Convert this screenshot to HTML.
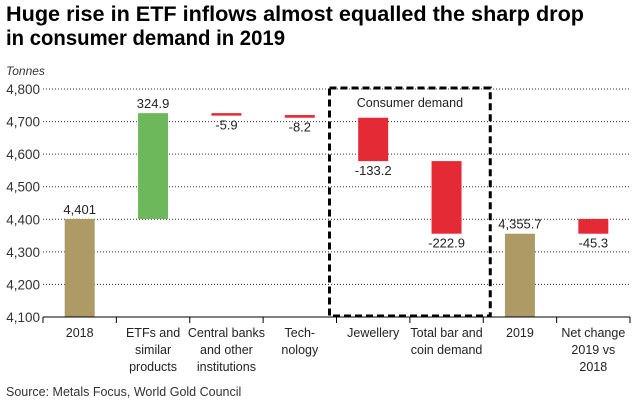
<!DOCTYPE html>
<html><head><meta charset="utf-8"><style>
body{margin:0;background:#fff;font-family:"Liberation Sans",sans-serif;}
svg text{font-family:"Liberation Sans",sans-serif;}
</style></head><body>
<svg id="c" width="644" height="415">
<text x="6" y="21" font-size="21" font-weight="bold" textLength="578" lengthAdjust="spacingAndGlyphs">Huge rise in ETF inflows almost equalled the sharp drop</text>
<text x="6" y="45" font-size="21" font-weight="bold" textLength="279" lengthAdjust="spacingAndGlyphs">in consumer demand in 2019</text>
<text x="6" y="75" font-size="12" font-style="italic" fill="#333">Tonnes</text>
<text x="6" y="396" font-size="12.5" fill="#333">Source: Metals Focus, World Gold Council</text>
<g id="g"></g>
</svg>
<script>
const categories=[["2018"],["ETFs and","similar","products"],["Central banks","and other","institutions"],["Tech-","nology"],["Jewellery"],["Total bar and","coin demand"],["2019"],["Net change","2019 vs","2018"]];
const changes=[4401,324.9,-5.9,-8.2,-133.2,-222.9,4355.7,-45.3];
const labels=["4,401","324.9","-5.9","-8.2","-133.2","-222.9","4,355.7","-45.3"];
const kinds=["total","delta","delta","delta","delta","delta","total","net"];
const yTicks=[4100,4200,4300,4400,4500,4600,4700,4800];
const NS="http://www.w3.org/2000/svg",g=document.getElementById('g');
const x0=43,x1=630,yB=317,yT=89,vMin=4100,vMax=4800;
const step=(x1-x0)/categories.length;
const y=v=>yB-(v-vMin)/(vMax-vMin)*(yB-yT);
const cx=i=>x0+step*(i+0.5);
function mk(t,a){const e=document.createElementNS(NS,t);for(const k in a)e.setAttribute(k,a[k]);g.appendChild(e);return e;}
yTicks.forEach(v=>{
 if(v>vMin){const l=mk('line',{x1:x0,x2:x1,y1:y(v),y2:y(v),stroke:'#333','stroke-width':1,'stroke-dasharray':'1,2'});
 
 }
 const t=mk('text',{x:x0-3,y:y(v)+5,'font-size':13.5,'text-anchor':'end',fill:'#333'});t.textContent=v.toLocaleString('en-US');
 
 
});
const box=mk('rect',{x:x0+step*4-7,y:88,width:step*2+14,height:228,fill:'none',stroke:'#000','stroke-width':3,'stroke-dasharray':'7,4'});


const bt=mk('text',{x:x0+step*5,y:107,'font-size':12.5,'text-anchor':'middle',fill:'#222'});bt.textContent='Consumer demand';


let run=0;
changes.forEach((d,i)=>{
 let a,b,col;
 if(kinds[i]==='total'){a=vMin;b=d;run=d;col='#ad9a64';}
 else if(kinds[i]==='net'){a=changes[0];b=changes[0]+d;col=d<0?'#e42b35':'#6cb85a';}
 else {a=run;b=run+d;run=b;col=d<0?'#e42b35':'#6cb85a';}
 const top=Math.max(a,b),bot=Math.min(a,b);
 const h=Math.max(y(bot)-y(top),2.5);
 const r=mk('rect',{x:cx(i)-15,y:y(top),width:30,height:h,fill:col});
 
 
 const up=d>=0;
 const ly=up?y(top)-5:y(top)+h+14;
 const t=mk('text',{x:cx(i),y:ly,'font-size':13,'text-anchor':'middle',fill:'#222'});t.textContent=labels[i];
 
 
 categories[i].forEach((s,j)=>{const c=mk('text',{x:cx(i),y:337+j*17,'font-size':12.5,'text-anchor':'middle',fill:'#222'});c.textContent=s;
 
 });
});
const ax=mk('line',{x1:x0,x2:x1,y1:yB,y2:yB,stroke:'#000','stroke-width':1});


for(let i=0;i<=categories.length;i++){const tk=mk('line',{x1:x0+step*i,x2:x0+step*i,y1:yB,y2:yB+6,stroke:'#000'});
 
 }
</script>
</body></html>
